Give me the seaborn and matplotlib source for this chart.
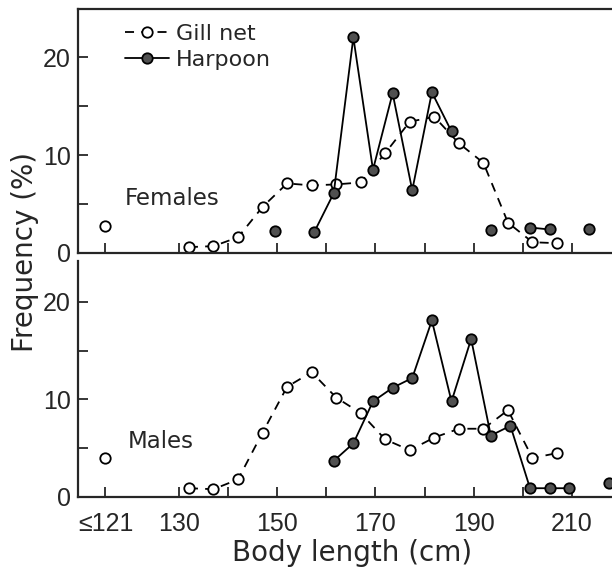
import numpy as np
import pandas as pd
import matplotlib
matplotlib.use("Agg")
import matplotlib.pyplot as plt
import seaborn as sns

# open-ended first class "<=121" is drawn left of the 130 tick
first_pos = 115
tick_pos = [first_pos, 130, 140, 150, 160, 170, 180, 190, 200, 210]
tick_lab = ["≤121", "130", "", "150", "", "170", "", "190", "", "210"]

# gill net catches, 5 cm classes
gill_len = [first_pos, 132, 137, 142, 147, 152, 157, 162, 167, 172, 177, 182, 187, 192, 197, 202, 207]
gill_fem = [2.8, 0.6, 0.7, 1.6, 4.7, 7.1, 6.9, 7.0, 7.2, 10.2, 13.4, 13.9, 11.2, 9.2, 3.1, 1.1, 1.0]
gill_male = [4.0, 0.9, 0.8, 1.8, 6.6, 11.3, 12.8, 10.2, 8.6, 5.9, 4.8, 6.1, 7.0, 7.0, 8.9, 4.0, 4.5]
gill_seg = [0] + [1] * 16

# harpoon catches, 4 cm classes
harp_fem_len = [149.5, 157.5, 161.5, 165.5, 169.5, 173.5, 177.5, 181.5, 185.5, 193.5, 201.5, 205.5, 213.5]
harp_fem = [2.2, 2.1, 6.1, 22.0, 8.5, 16.3, 6.4, 16.4, 12.4, 2.3, 2.6, 2.4, 2.4]
harp_fem_seg = [0, 1, 1, 1, 1, 1, 1, 1, 1, 2, 3, 3, 4]

harp_male_len = [161.5, 165.5, 169.5, 173.5, 177.5, 181.5, 185.5, 189.5, 193.5, 197.5, 201.5, 205.5, 209.5, 217.5]
harp_male = [3.7, 5.5, 9.8, 11.2, 12.2, 18.1, 9.8, 16.2, 6.3, 7.3, 0.9, 0.9, 0.9, 1.4]
harp_male_seg = [0] * 13 + [1]

sns.set_style("ticks")
plt.rcParams["font.family"] = ["DejaVu Sans"]
num_font = ["Liberation Sans", "DejaVu Sans"]

W, H = 612, 574
fig = plt.figure(figsize=(W / 100, H / 100), dpi=100)
ax1 = fig.add_axes([78 / W, 1 - 253 / H, (W - 78) / W, (253 - 9) / H])
ax2 = fig.add_axes([78 / W, 1 - 497 / H, (W - 78) / W, (497 - 261) / H])

gill_style = dict(color="black", linewidth=1.3, linestyle=(0, (5, 4)), marker="o", markersize=7.5,
                  markerfacecolor="white", markeredgecolor="black", markeredgewidth=1.3, clip_on=False)
harp_style = dict(color="black", linewidth=1.3, linestyle="-", marker="o", markersize=7.5,
                  markerfacecolor="#505050", markeredgecolor="black", markeredgewidth=1.3, clip_on=False)

fem_gill = pd.DataFrame({"len": gill_len, "freq": gill_fem, "seg": gill_seg})
male_gill = pd.DataFrame({"len": gill_len, "freq": gill_male, "seg": gill_seg})
fem_harp = pd.DataFrame({"len": harp_fem_len, "freq": harp_fem, "seg": harp_fem_seg})
male_harp = pd.DataFrame({"len": harp_male_len, "freq": harp_male, "seg": harp_male_seg})

sns.lineplot(data=fem_gill, x="len", y="freq", units="seg", estimator=None, ax=ax1, **gill_style)
sns.lineplot(data=fem_harp, x="len", y="freq", units="seg", estimator=None, ax=ax1, **harp_style)
sns.lineplot(data=male_gill, x="len", y="freq", units="seg", estimator=None, ax=ax2, **gill_style)
sns.lineplot(data=male_harp, x="len", y="freq", units="seg", estimator=None, ax=ax2, **harp_style)

ax1.set_ylim(0, 24.9)
ax2.set_ylim(0, 24.2)
for ax in (ax1, ax2):
    ax.set_xlim(109.4, 218.2)
    ax.set_xticks(tick_pos)
    ax.set_yticks([0, 10, 20])
    ax.set_yticks([5, 15], minor=True)
    ax.tick_params(which="both", direction="in", length=7, width=1.3)
    ax.tick_params(axis="x", which="minor", bottom=False)
    ax.set_xlabel("")
    ax.set_ylabel("")
    ax.spines["right"].set_visible(False)
    for s in ("left", "bottom", "top"):
        ax.spines[s].set_linewidth(1.6)
    ax.set_yticklabels(["0", "10", "20"], family=num_font, fontsize=18)
    ax.tick_params(axis="y", pad=5)

ax2.spines["top"].set_visible(False)
ax1.set_xticklabels([])
ax2.set_xticklabels(tick_lab, family=num_font, fontsize=18)
ax2.tick_params(axis="x", pad=11)

ax1.text(125 / W, 1 - 199 / H, "Females", transform=fig.transFigure, fontsize=16.5, va="center")
ax2.text(128 / W, 1 - 442 / H, "Males", transform=fig.transFigure, fontsize=16.5, va="center")

handles = [plt.Line2D([], [], **{k: v for k, v in gill_style.items() if k != "clip_on"}),
           plt.Line2D([], [], **{k: v for k, v in harp_style.items() if k != "clip_on"})]
ax1.legend(handles, ["Gill net", "Harpoon"], loc="upper left", bbox_to_anchor=(125 / W, 1 - 24 / H),
           bbox_transform=fig.transFigure, frameon=False, fontsize=16, handlelength=2.0,
           handletextpad=0.3, labelspacing=0.25, borderpad=0, borderaxespad=0, numpoints=1)

fig.text(25 / W, 1 - 252 / H, "Frequency (%)", rotation=90, fontsize=20, ha="center", va="center")
fig.text(352 / W, 1 - 553 / H, "Body length (cm)", fontsize=20, ha="center", va="center")

fig.savefig("out.png", dpi=100)
